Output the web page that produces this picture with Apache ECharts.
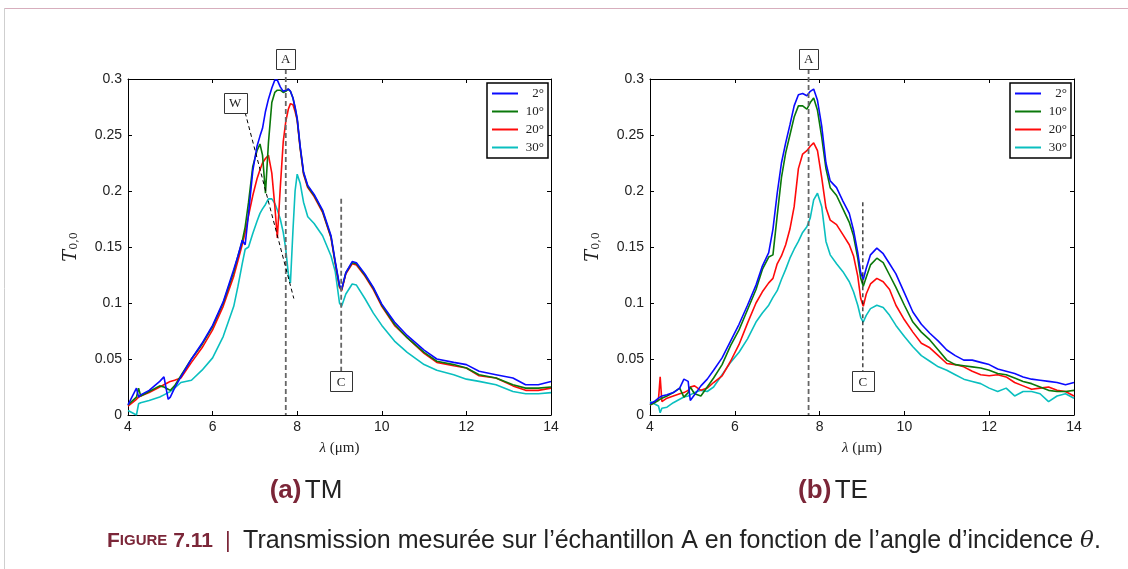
<!DOCTYPE html>
<html>
<head>
<meta charset="utf-8">
<script src="https://cdn.jsdelivr.net/npm/echarts@6/dist/echarts.min.js"></script>
<style>
html, body { margin: 0; padding: 0; background: #fff; }
#chart { width: 1128px; height: 569px; }
</style>
</head>
<body>
<div id="chart"></div>
<script>
// angles d'incidence
var angles = ["2°", "10°", "20°", "30°"];
var colors = ["#0a0aff", "#0a780a", "#ff0a0a", "#0abfbf"];

// (a) TM : longueur d'onde (µm) et transmission T0,0
var tmLambda = [4.0, 4.2, 4.25, 4.3, 4.5, 4.75, 4.85, 4.95,
  5.0, 5.1, 5.25, 5.5, 5.75, 6.0, 6.25, 6.5,
  6.6, 6.7, 6.77, 6.85, 6.95, 7.05, 7.12, 7.18,
  7.25, 7.32, 7.4, 7.47, 7.53, 7.6, 7.67, 7.73,
  7.79, 7.84, 7.9, 7.95, 8.0, 8.07, 8.15, 8.25,
  8.4, 8.6, 8.8, 8.9, 9.0, 9.05, 9.15, 9.3,
  9.4, 9.6, 9.8, 10.0, 10.3, 10.6, 11.0, 11.3,
  11.7, 12.0, 12.3, 12.7, 13.1, 13.4, 13.7, 14.0];
var tm2 = [.009, .024, .016, .018, .022, .030, .034, .014,
  .016, .024, .034, .050, .064, .080, .101, .130,
  .142, .156, .152, .180, .218, .240, .249, .256,
  .271, .282, .292, .299, .299, .293, .289, .290,
  .291, .289, .283, .275, .265, .240, .217, .205,
  .197, .183, .160, .137, .116, .112, .127, .137,
  .136, .126, .114, .099, .083, .071, .058, .050,
  .047, .045, .039, .036, .033, .027, .027, .030];
var tm10 = [.009, .016, .024, .017, .021, .026, .025, .023,
  .022, .026, .035, .050, .063, .079, .100, .128,
  .142, .155, .168, .190, .222, .236, .242, .232,
  .198, .243, .279, .288, .290, .290, .288, .289,
  .291, .289, .283, .274, .264, .239, .216, .204,
  .196, .182, .159, .136, .115, .112, .127, .136,
  .135, .125, .113, .098, .081, .069, .056, .048,
  .045, .042, .036, .033, .027, .024, .024, .025];
var tm20 = [.008, .014, .016, .017, .020, .025, .027, .029,
  .030, .031, .033, .047, .060, .076, .097, .124,
  .138, .152, .163, .178, .196, .211, .219, .225,
  .229, .232, .216, .187, .158, .203, .244, .262,
  .273, .278, .277, .271, .263, .238, .215, .203,
  .195, .181, .158, .135, .114, .111, .126, .135,
  .134, .124, .112, .097, .080, .069, .055, .047,
  .044, .042, .035, .033, .026, .022, .022, .024];
var tm30 = [.004, .000, .010, .011, .013, .016, .018, .020,
  .021, .024, .029, .031, .040, .051, .070, .097,
  .115, .135, .148, .150, .162, .173, .180, .184,
  .188, .193, .193, .189, .183, .175, .163, .148,
  .126, .118, .165, .200, .215, .207, .190, .177,
  .171, .160, .142, .128, .100, .097, .108, .117,
  .116, .104, .091, .080, .066, .056, .045, .040,
  .036, .032, .030, .027, .021, .019, .019, .020];

// (b) TE
var teLambda = [4.0, 4.1, 4.2, 4.24, 4.28, 4.4, 4.55, 4.7,
  4.8, 4.9, 4.95, 5.05, 5.2, 5.35, 5.5, 5.7,
  5.9, 6.1, 6.3, 6.5, 6.65, 6.8, 6.9, 7.0,
  7.1, 7.2, 7.3, 7.4, 7.5, 7.6, 7.7, 7.78,
  7.86, 7.95, 8.05, 8.15, 8.25, 8.4, 8.55, 8.7,
  8.8, 8.9, 8.97, 9.03, 9.1, 9.2, 9.35, 9.5,
  9.65, 9.8, 10.0, 10.2, 10.4, 10.6, 10.8, 11.0,
  11.2, 11.4, 11.6, 11.8, 12.0, 12.2, 12.4, 12.6,
  12.8, 13.0, 13.2, 13.4, 13.6, 13.8, 14.0];
var te2 = [.010, .012, .015, .016, .017, .018, .020, .024,
  .032, .030, .013, .018, .026, .032, .040, .051,
  .066, .081, .098, .116, .133, .145, .166, .198,
  .225, .243, .259, .276, .286, .287, .285, .289,
  .291, .281, .258, .225, .209, .203, .191, .180,
  .165, .145, .127, .121, .131, .143, .149, .144,
  .135, .126, .109, .092, .081, .073, .066, .058,
  .053, .049, .049, .047, .045, .041, .039, .037,
  .034, .032, .031, .030, .029, .027, .029];
var te10 = [.009, .011, .013, .014, .015, .017, .020, .024,
  .016, .020, .025, .019, .017, .025, .033, .045,
  .062, .076, .094, .112, .130, .141, .143, .178,
  .212, .234, .250, .266, .276, .276, .273, .279,
  .283, .272, .248, .220, .203, .196, .184, .172,
  .160, .140, .122, .115, .123, .134, .140, .136,
  .125, .114, .098, .083, .074, .067, .058, .049,
  .045, .044, .043, .042, .040, .037, .036, .033,
  .030, .028, .025, .022, .021, .021, .022];
var te20 = [.009, .011, .014, .034, .012, .015, .017, .019,
  .020, .022, .025, .026, .022, .024, .029, .035,
  .048, .063, .082, .100, .110, .118, .122, .135,
  .142, .152, .166, .186, .220, .233, .236, .240,
  .243, .236, .212, .185, .174, .170, .161, .152,
  .142, .124, .104, .097, .108, .117, .122, .119,
  .112, .098, .085, .074, .064, .060, .053, .046,
  .045, .043, .039, .036, .035, .036, .034, .029,
  .026, .023, .024, .025, .022, .021, .017];
var te30 = [.012, .010, .008, .002, .006, .007, .011, .014,
  .016, .017, .018, .020, .022, .021, .025, .036,
  .047, .056, .068, .083, .091, .098, .105, .111,
  .121, .130, .140, .148, .155, .163, .168, .176,
  .192, .198, .186, .155, .143, .135, .128, .119,
  .110, .098, .087, .083, .089, .095, .098, .096,
  .089, .080, .070, .061, .053, .048, .043, .040,
  .036, .032, .030, .028, .024, .021, .024, .017,
  .021, .021, .019, .012, .017, .019, .015];

// repères A, C et W
var lambdaA = [7.73, 7.74];
var lambdaC = [9.04, 9.02];
var topC = [0.193, 0.19];
var lineW = [[6.77, 0.27], [7.92, 0.104]];

var chart = echarts.init(document.getElementById("chart"));

function pairs(xs, ys) {
  return xs.map(function (x, i) { return [x, ys[i]]; });
}

var axisLine = { onZero: false, lineStyle: { color: "#000", width: 1 } };
var axisTick = { inside: true, length: 4, lineStyle: { color: "#000" } };
var labelStyle = { color: "#222", fontSize: 14, fontFamily: "Liberation Sans" };

function xAxes(g) {
  return [
    {
      gridIndex: g, type: "value", min: 4, max: 14, interval: 2, position: "bottom",
      name: "{l|λ} (μm)", nameLocation: "middle", nameGap: 26,
      nameTextStyle: {
        color: "#222", fontSize: 15, fontFamily: "Liberation Serif",
        rich: { l: { fontStyle: "italic", fontSize: 15, fontFamily: "Liberation Serif", color: "#222" } }
      },
      axisLine: axisLine, axisTick: axisTick,
      axisLabel: Object.assign({ margin: 5 }, labelStyle),
      splitLine: { show: false }
    },
    {
      gridIndex: g, type: "value", min: 4, max: 14, interval: 2, position: "top",
      axisLine: axisLine, axisTick: axisTick, axisLabel: { show: false }, splitLine: { show: false }
    }
  ];
}

function yAxes(g) {
  return [
    {
      gridIndex: g, type: "value", min: 0, max: 0.3, interval: 0.05, position: "left",
      name: "{t|T}{s|0,0}", nameLocation: "middle", nameGap: 48, nameRotate: 90,
      nameTextStyle: {
        rich: {
          t: { fontStyle: "italic", fontSize: 18, fontFamily: "DejaVu Serif", color: "#222" },
          s: { fontSize: 11, fontFamily: "DejaVu Serif", color: "#222", verticalAlign: "bottom", padding: [6, 0, 0, 0] }
        }
      },
      axisLine: axisLine, axisTick: axisTick,
      axisLabel: Object.assign({ margin: 6 }, labelStyle),
      splitLine: { show: false }
    },
    {
      gridIndex: g, type: "value", min: 0, max: 0.3, interval: 0.05, position: "right",
      axisLine: axisLine, axisTick: axisTick, axisLabel: { show: false }, splitLine: { show: false }
    }
  ];
}

var seriesData = [
  [pairs(tmLambda, tm2), pairs(tmLambda, tm10), pairs(tmLambda, tm20), pairs(tmLambda, tm30)],
  [pairs(teLambda, te2), pairs(teLambda, te10), pairs(teLambda, te20), pairs(teLambda, te30)]
];

var series = [];
seriesData.forEach(function (group, g) {
  group.forEach(function (data, k) {
    series.push({
      name: angles[k], type: "line", xAxisIndex: g * 2, yAxisIndex: g * 2,
      data: data, symbol: "none", showSymbol: false, z: 10 - k,
      lineStyle: { color: colors[k], width: 1.6 }, itemStyle: { color: colors[k] }
    });
  });
});

function legendAt(left) {
  return {
    left: left, top: 83, orient: "vertical", data: angles, selectedMode: false,
    icon: "rect", itemWidth: 26, itemHeight: 2, itemGap: 5,
    borderColor: "#000", borderWidth: 1.5, padding: [4, 4, 4, 5], backgroundColor: "#fff",
    formatter: function (name) { return "{r|" + name + "}"; },
    textStyle: {
      fontFamily: "Liberation Serif", fontSize: 13, color: "#222",
      rich: { r: { width: 21, align: "right", fontFamily: "Liberation Serif", fontSize: 13, color: "#222", lineHeight: 16 } }
    }
  };
}

chart.setOption({
  animation: false,
  backgroundColor: "#fff",
  grid: [
    { left: 128, top: 79, width: 423, height: 336 },
    { left: 650, top: 79, width: 424, height: 336 }
  ],
  xAxis: xAxes(0).concat(xAxes(1)),
  yAxis: yAxes(0).concat(yAxes(1)),
  legend: [legendAt(487), legendAt(1010)],
  series: series
});

// repères et légendes dessinés après coup, positionnés par les échelles
function px(g, x, y) { return chart.convertToPixel({ seriesIndex: g * 4 }, [x, y]); }

function dashed(p1, p2, color, width, dash) {
  return {
    type: "line", z: 50, silent: true,
    shape: { x1: p1[0], y1: p1[1], x2: p2[0], y2: p2[1] },
    style: { stroke: color, lineWidth: width, lineDash: dash }
  };
}

function box(cx, cy, w, h, label) {
  return [
    { type: "rect", z: 60, shape: { x: Math.round(cx - w / 2) + 0.5, y: Math.round(cy - h / 2) + 0.5, width: w, height: h },
      style: { fill: "#fff", stroke: "#333", lineWidth: 1 } },
    { type: "text", z: 61, style: { text: label, x: cx, y: cy + 1, align: "center", verticalAlign: "middle",
      textAlign: "center", textVerticalAlign: "middle", font: "13px 'Liberation Serif'", fill: "#222" } }
  ];
}

var g = [];
[0, 1].forEach(function (i) {
  var aTop = px(i, lambdaA[i], 0.309);
  var aBot = px(i, lambdaA[i], 0);
  g.push(dashed(aTop, aBot, "#666", 1.8, [5, 3]));
  g = g.concat(box(aTop[0], aTop[1] - 10, 19, 20, "A"));
  var cTop = px(i, lambdaC[i], topC[i]);
  var cBot = px(i, lambdaC[i], 0.039);
  if (i === 0) g.push(dashed(cTop, cBot, "#666", 1.8, [5, 3]));
  else g.push(dashed(cTop, cBot, "#000", 1.1, [4, 3]));
  g = g.concat(box(cBot[0], cBot[1] + 10, 22, 20, "C"));
});
var w1 = px(0, lineW[0][0], lineW[0][1]);
var w2 = px(0, lineW[1][0], lineW[1][1]);
g.push(dashed(w1, w2, "#000", 1, [4, 3]));
g = g.concat(box(w1[0] - 10, w1[1] - 10, 23, 20, "W"));

// cadre de page
g.push({ type: "line", shape: { x1: 4, y1: 8.5, x2: 1128, y2: 8.5 }, style: { stroke: "#d7aebd", lineWidth: 1 } });
g.push({ type: "line", shape: { x1: 4.5, y1: 8, x2: 4.5, y2: 569 }, style: { stroke: "#cfcfcf", lineWidth: 1 } });

// sous-titres et légende de figure
var subRich = {
  b: { fontFamily: "Liberation Sans", fontWeight: "bold", fontSize: 26, fill: "#7b2638" },
  n: { fontFamily: "Liberation Sans", fontSize: 26, fill: "#222" }
};
g.push({ type: "text", style: { text: "{b|(a)} {n|TM}", rich: subRich, x: 306, y: 491, align: "center", verticalAlign: "middle", textAlign: "center", textVerticalAlign: "middle" } });
g.push({ type: "text", style: { text: "{b|(b)} {n|TE}", rich: subRich, x: 833, y: 491, align: "center", verticalAlign: "middle", textAlign: "center", textVerticalAlign: "middle" } });
g.push({ type: "text", style: {
  text: "{f|F}{s|IGURE}{f| 7.11}{p|  |  }{n|Transmission mesurée sur l’échantillon A en fonction de l’angle d’incidence }{i|θ}{n|.}",
  x: 107, y: 541, align: "left", verticalAlign: "middle", textAlign: "left", textVerticalAlign: "middle",
  rich: {
    f: { fontFamily: "Liberation Sans", fontWeight: "bold", fontSize: 21, fill: "#7b2638" },
    s: { fontFamily: "Liberation Sans", fontWeight: "bold", fontSize: 15, fill: "#7b2638" },
    p: { fontFamily: "Liberation Sans", fontSize: 22, fill: "#7b2638" },
    n: { fontFamily: "Liberation Sans", fontSize: 25, fill: "#222" },
    i: { fontFamily: "DejaVu Serif", fontStyle: "italic", fontSize: 23, fill: "#222" }
  }
} });

chart.setOption({ graphic: g });
</script>
</body>
</html>
